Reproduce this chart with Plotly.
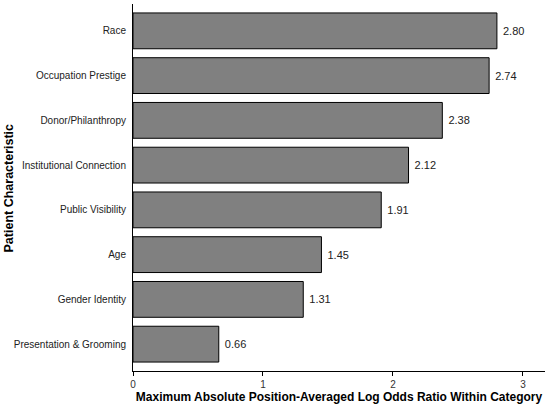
import plotly.graph_objects as go

categories = ["Race", "Occupation Prestige", "Donor/Philanthropy", "Institutional Connection",
              "Public Visibility", "Age", "Gender Identity", "Presentation & Grooming"]
values = [2.80, 2.74, 2.38, 2.12, 1.91, 1.45, 1.31, 0.66]

# plotly draws first category at the bottom, so reverse
cats = categories[::-1]
vals = values[::-1]

fig = go.Figure()
fig.add_trace(go.Bar(
    x=vals, y=cats, orientation="h",
    marker=dict(color="#808080", line=dict(color="black", width=1)),
    width=0.8,
    text=[f" {v:.2f}" for v in vals],
    textposition="outside",
    textfont=dict(size=11, color="#222222"),
    cliponaxis=False,
))

fig.update_layout(
    width=550, height=404,
    margin=dict(l=133, r=5, t=4, b=33),
    plot_bgcolor="white", paper_bgcolor="white",
    font=dict(family="Liberation Sans, Arial", color="black"),
    showlegend=False,
)
fig.update_xaxes(
    range=[0, 3.17], tickvals=[0, 1, 2, 3], showgrid=False, zeroline=False,
    showline=True, linecolor="black", linewidth=1, automargin=False,
    ticks="outside", ticklen=4, tickcolor="black", tickfont=dict(size=10, color="#333333"),
    title=dict(text="<b>Maximum Absolute Position-Averaged Log Odds Ratio Within Category</b>",
               font=dict(size=12), standoff=0),
)
fig.update_yaxes(
    range=[-0.6, 7.6], showgrid=False, zeroline=False,
    showline=True, linecolor="black", linewidth=1, automargin=False,
    ticks="", tickfont=dict(size=10, color="#222222"), ticklabelstandoff=4,
)

# y title as an annotation so it can sit a little further right
fig.add_annotation(
    text="<b>Patient Characteristic</b>", textangle=-90,
    xref="paper", yref="paper", x=-0.301, y=0.5,
    xanchor="center", yanchor="middle", showarrow=False,
    font=dict(size=12.5),
)

# drop the browser's default body margin so the figure sits at the page corner
fig.write_html("out.html", config={"displayModeBar": False},
               post_script="document.body.style.margin='0';")
